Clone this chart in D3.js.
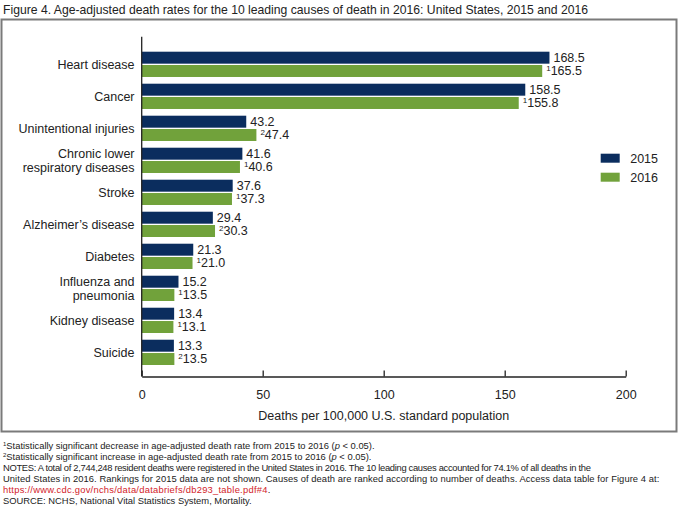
<!DOCTYPE html>
<html>
<head>
<meta charset="utf-8">
<script src="https://cdn.jsdelivr.net/npm/d3@7"></script>
<style>
  body { margin: 0; background: #fff; }
  svg { font-family: "Liberation Sans", Arial, sans-serif; }
</style>
</head>
<body>
<svg id="chart" width="680" height="507"></svg>
<script>
// data
const causes = ['Heart disease', 'Cancer', 'Unintentional injuries', 'Chronic lower respiratory diseases',
  'Stroke', "Alzheimer\u2019s disease", 'Diabetes', 'Influenza and pneumonia', 'Kidney disease', 'Suicide'];
const causeLines = [['Heart disease'], ['Cancer'], ['Unintentional injuries'], ['Chronic lower', 'respiratory diseases'],
  ['Stroke'], ["Alzheimer\u2019s disease"], ['Diabetes'], ['Influenza and', 'pneumonia'], ['Kidney disease'], ['Suicide']];
const years = ['2015', '2016'];
const rate2015 = [168.5, 158.5, 43.2, 41.6, 37.6, 29.4, 21.3, 15.2, 13.4, 13.3];
const rate2016 = [165.5, 155.8, 47.4, 40.6, 37.3, 30.3, 21.0, 13.5, 13.1, 13.5];
const note2016 = ['1', '1', '2', '1', '1', '2', '1', '1', '1', '2'];
const xTicks = [0, 50, 100, 150, 200];

const colors = {'2015': '#0b2d5e', '2016': '#71a23b'};

const svg = d3.select('#chart');

// outer frame
svg.append('rect')
  .attr('x', 1.5).attr('y', 19.5)
  .attr('width', 675).attr('height', 412)
  .attr('fill', 'none').attr('stroke', '#7a7a7a').attr('stroke-width', 2);

svg.append('text')
  .attr('x', 3).attr('y', 14)
  .attr('font-size', 13).attr('fill', '#222')
  .attr('textLength', 585).attr('lengthAdjust', 'spacingAndGlyphs')
  .text('Figure 4. Age-adjusted death rates for the 10 leading causes of death in 2016: United States, 2015 and 2016');

const x = d3.scaleLinear().domain([0, 200]).range([141.7, 625.7]);
const y = d3.scaleBand().domain(causes).range([42.1, 374.6]).paddingInner(0.21).paddingOuter(0.3);
const yy = d3.scaleBand().domain(years).range([0, y.bandwidth()]).paddingInner(0.1);

const axisY = 376.5;

const rows = causes.map(function(c, i) {
  return {cause: c, lines: causeLines[i], values: [
    {year: '2015', v: rate2015[i], note: ''},
    {year: '2016', v: rate2016[i], note: note2016[i]}
  ]};
});

const group = svg.selectAll('.cause')
  .data(rows)
  .enter().append('g')
  .attr('class', 'cause')
  .attr('transform', function(d) { return 'translate(0,' + y(d.cause) + ')'; });

group.selectAll('rect')
  .data(function(d) { return d.values; })
  .enter().append('rect')
  .attr('x', x(0))
  .attr('y', function(d) { return yy(d.year); })
  .attr('width', function(d) { return x(d.v) - x(0); })
  .attr('height', yy.bandwidth())
  .attr('fill', function(d) { return colors[d.year]; });

const valueLabel = group.selectAll('text.val')
  .data(function(d) { return d.values; })
  .enter().append('text')
  .attr('class', 'val')
  .attr('x', function(d) { return x(d.v) + 4; })
  .attr('y', function(d) { return yy(d.year) + yy.bandwidth() / 2 + 4.5; })
  .attr('font-size', 12.5)
  .attr('fill', '#222');

valueLabel.filter(function(d) { return d.note; })
  .append('tspan')
  .attr('font-size', 8)
  .attr('dy', -4)
  .text(function(d) { return d.note; });
valueLabel.append('tspan')
  .attr('dy', function(d) { return d.note ? 4 : null; })
  .text(function(d) { return d.v.toFixed(1); });

// category labels
group.append('text')
  .attr('text-anchor', 'end')
  .attr('font-size', 12.5)
  .attr('fill', '#222')
  .selectAll('tspan')
  .data(function(d) { return d.lines.map(function(l, i) { return {l: l, i: i, n: d.lines.length}; }); })
  .enter().append('tspan')
  .attr('x', 134.5)
  .attr('y', function(d) { return y.bandwidth() / 2 + (d.i - (d.n - 1) / 2) * 14 + 4.5; })
  .text(function(d) { return d.l; });

// axes
svg.append('line')
  .attr('x1', x(0)).attr('x2', x(0))
  .attr('y1', 36.7).attr('y2', axisY)
  .attr('stroke', '#222').attr('stroke-width', 1.3);

const xAxis = svg.append('g')
  .attr('transform', 'translate(0,' + axisY + ')')
  .call(d3.axisBottom(x).tickValues(xTicks).tickSizeInner(-6).tickSizeOuter(0).tickPadding(14));
xAxis.select('.domain').attr('stroke', '#222').attr('stroke-width', 1.3);
xAxis.selectAll('.tick line').attr('stroke', '#222').attr('stroke-width', 1.3);
xAxis.selectAll('.tick text')
  .attr('font-size', 12.5).attr('font-family', null).attr('fill', '#222');

svg.append('text')
  .attr('x', (x(0) + x(200)) / 2).attr('y', 419.5)
  .attr('text-anchor', 'middle')
  .attr('font-size', 12.5).attr('fill', '#222')
  .text('Deaths per 100,000 U.S. standard population');

// legend
const legend = svg.selectAll('.legend')
  .data(years)
  .enter().append('g')
  .attr('class', 'legend')
  .attr('transform', function(d, i) { return 'translate(600.7,' + (153.7 + i * 19) + ')'; });
legend.append('rect')
  .attr('width', 19).attr('height', 9)
  .attr('fill', function(d) { return colors[d]; });
legend.append('text')
  .attr('x', 29.5).attr('y', 9)
  .attr('font-size', 12.5).attr('fill', '#222')
  .text(function(d) { return d; });

// footnotes
const foot = svg.append('g').attr('font-size', 9.4).attr('fill', '#222');
[['1', 'decrease', 449.3], ['2', 'increase', 460.3]].forEach(function(f) {
  const t = foot.append('text').attr('x', 3).attr('y', f[2]);
  t.append('tspan').attr('font-size', 6).attr('dy', -3).text(f[0]);
  t.append('tspan').attr('dy', 3).text('Statistically significant ' + f[1] + ' in age-adjusted death rate from 2015 to 2016 (');
  t.append('tspan').attr('font-style', 'italic').text('p');
  t.append('tspan').text(' < 0.05).');
});
foot.append('text').attr('x', 3).attr('y', 471.3)
  .attr('letter-spacing', -0.32)
  .text('NOTES: A total of 2,744,248 resident deaths were registered in the United States in 2016. The 10 leading causes accounted for 74.1% of all deaths in the');
foot.append('text').attr('x', 3).attr('y', 482.2)
  .attr('letter-spacing', 0.07)
  .text('United States in 2016. Rankings for 2015 data are not shown. Causes of death are ranked according to number of deaths. Access data table for Figure 4 at:');
const link = foot.append('text').attr('x', 3).attr('y', 493.1).attr('letter-spacing', 0.25);
link.append('tspan').attr('fill', '#d2232a').text('https://www.cdc.gov/nchs/data/databriefs/db293_table.pdf#4');
link.append('tspan').text('.');
foot.append('text').attr('x', 3).attr('y', 504)
  .text('SOURCE: NCHS, National Vital Statistics System, Mortality.');
</script>
</body>
</html>
